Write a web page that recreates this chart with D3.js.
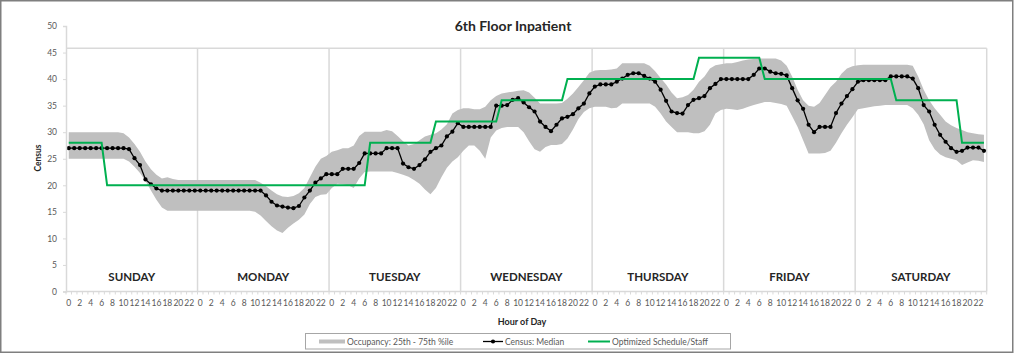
<!DOCTYPE html>
<html><head><meta charset="utf-8">
<script src="https://cdn.jsdelivr.net/npm/d3@7"></script>
<style>body{margin:0;background:#fff}svg{display:block}text{font-family:Lato,"Open Sans",sans-serif}</style>
</head><body><svg id="c" width="1024" height="355"></svg>
<script>
const title = "6th Floor Inpatient";
const days = ["SUNDAY","MONDAY","TUESDAY","WEDNESDAY","THURSDAY","FRIDAY","SATURDAY"];
const hourLabels = [0,2,4,6,8,10,12,14,16,18,20,22];
const yTicks = [0,5,10,15,20,25,30,35,40,45,50];
const seriesNames = ["Occupancy: 25th - 75th %ile","Census: Median","Optimized Schedule/Staff"];

const median = [
 27,27,27,27,27,27,27,27,27,27,27,26.8,25.1,23.8,21.1,20.2,19.4,19,19,19,19,19,19,19,
 19,19,19,19,19,19,19,19,19,19,19,19,18.1,16.9,16.2,16,15.8,15.7,16.1,17.7,19,20.5,21.3,22.1,
 22.1,22.1,23.1,23.1,23.1,24.2,26,26,26,26,27,27,27,24.1,23.4,23.1,23.8,24.9,26.3,27,27.5,29.2,30.1,31.7,
 31,31,31,31,31,31,35,35,35.1,36.1,36.4,35.6,34.7,33.9,32,31,30.2,31.4,32.6,32.9,33.4,34.5,35.4,37.3,
 38.6,39,39,39,39.5,40.1,40.8,41.1,41.1,40.6,40.1,39.5,38,35.9,33.9,33.6,33.5,35.1,36.1,36.4,36.8,38.3,39.1,40,
 40,40,40,40,40,40.8,42,42,41.4,41.1,41,40.7,38.3,36,34.4,31.4,30,31,31,31,33.6,35.4,36.8,38.1,
 39.5,39.8,39.8,39.8,39.8,39.8,40.5,40.5,40.5,40.5,40.1,38.3,35.1,33.9,31.4,29.5,28.2,27,26.3,26.5,27.1,27.1,27.1,26.5
];
const upper = [
 30,30,30,30,30,30,30,30,30,30,29.8,29,27.8,26.3,24.5,23,22,21.3,21.5,21.2,21,21,21,21,
 21,21,21,21,21,21,21,21,21,21,21,20.5,19.8,19,18.3,17.9,17.8,18,18.5,19.5,21.5,23.5,25,25.5,
 26.3,26.6,27,27,27.5,29.3,30.1,30.1,30.1,30.1,30.4,30.2,29.3,28.3,27.5,27.8,28.5,29.2,29.5,29.8,30.5,31.5,33.5,34.2,
 34.5,34.5,34.3,34.3,34.8,36,36.8,37.3,37.5,37.6,37.8,37.9,37.5,36.5,35.4,35.4,35.4,35.4,35.5,36.3,37.3,38.5,39.8,41.2,
 41.6,41.7,41.7,41.8,42,43,43,43,43,43,42.5,41.5,40.2,39,37.5,36.4,36.6,37,38,39.5,40.5,42,42.6,42.8,
 43,43,43.2,43.5,43.7,43.8,43.9,43.9,43.9,43.9,43.5,42.5,40.5,38,36,35,34.8,35.5,37,38.5,39.5,41,42,42.4,
 42.6,42.7,42.7,42.7,42.7,42.7,42.7,42.7,42.7,42.7,42.5,40.5,38,36,34.5,33.3,32,31.3,30.8,30.4,30,29.8,29.6,29.5
];
const lower = [
 25,25,25,25,25,25,25,25,25,25,25,24.5,23.5,22.3,20.8,19,17.3,15.8,15.2,15.2,15.2,15.2,15.2,15.2,
 15.2,15.2,15.2,15.2,15.2,15.2,15.2,15.2,15.2,15.2,15,14.3,13.3,12.3,11.5,11,12,12.8,13.5,14.5,16.5,17.8,18.2,18.3,
 19.5,20.3,20.2,20,19.5,21.3,22.5,22.6,22.6,22.6,22.6,22.6,22.3,22,21.6,21,20.3,19.2,18.3,19.5,21.5,23.3,24.5,25.3,
 26.5,27.5,27.5,26.5,25,29,30.3,30.8,31,31,31,30,28.3,26.8,26.3,27.2,27.6,27.6,27.8,28.8,30.5,32.5,33.8,34.5,
 34.8,34.8,34.8,34.5,34.6,35.4,35.4,35.4,35.4,35.4,35.4,34.8,33.5,32,31,30,30,30,29.8,29.8,30.2,31.4,33.5,34.2,
 34.4,34.3,34.2,34.4,34.8,35.1,35.4,35.7,35.7,35.5,35.3,35,33,31,28.5,26,26,26,26.1,26.5,28,29.8,31.4,32.8,
 34.3,34.5,34.7,34.9,35,35.1,35.1,35.1,35.1,35.1,34.5,33.3,31.5,28.5,26.8,25.8,25.3,25,24.7,23.8,24.3,24.7,24.6,24.4
];
const staff = [
 28,28,28,28,28,28,28,20,20,20,20,20,20,20,20,20,20,20,20,20,20,20,20,20,
 20,20,20,20,20,20,20,20,20,20,20,20,20,20,20,20,20,20,20,20,20,20,20,20,
 20,20,20,20,20,20,20,28,28,28,28,28,28,28,28,28,28,28,28,32,32,32,32,32,
 32,32,32,32,32,32,32,36,36,36,36,36,36,36,36,36,36,36,36,40,40,40,40,40,
 40,40,40,40,40,40,40,40,40,40,40,40,40,40,40,40,40,40,40,44,44,44,44,44,
 44,44,44,44,44,44,44,40,40,40,40,40,40,40,40,40,40,40,40,40,40,40,40,40,
 40,40,40,40,40,40,40,36,36,36,36,36,36,36,36,36,36,36,36,28,28,28,28,28
];

const svg = d3.select("#c");
const L = 66, R = 986.7, T = 48.3, B = 291.5;
const idx = d3.range(days.length * 24);
const x = d3.scaleBand().domain(idx).range([L, R]).padding(0);
const xc = i => x(i) + x.bandwidth() / 2;
const y = d3.scaleLinear().domain([0, 50]).range([B, 26]);
const grid = "#d9d9d9", txt = "#595959";

// outer frame
svg.append("rect").attr("x",0.75).attr("y",0.75).attr("width",1012).attr("height",351.5)
  .attr("fill","#fff").attr("stroke","#7f7f7f").attr("stroke-width",1.5);

// title
svg.append("text").attr("x",513).attr("y",31).attr("text-anchor","middle")
  .attr("font-size",14).attr("font-weight","bold").attr("fill","#262626").text(title);

// plot frame top and day separators
svg.append("line").attr("x1",L).attr("x2",R).attr("y1",T).attr("y2",T).attr("stroke",grid).attr("stroke-width",1.5);
days.forEach((d,k)=>{
  const xe = k===days.length-1 ? R : x((k+1)*24);
  svg.append("line").attr("x1",xe).attr("x2",xe).attr("y1",T).attr("y2",B).attr("stroke",grid).attr("stroke-width",1.5);
});

// band
svg.append("path").datum(idx)
  .attr("d", d3.area().x(i=>xc(i)).y0(i=>y(lower[i])).y1(i=>y(upper[i])))
  .attr("fill","#bfbfbf");

// median
svg.append("path").datum(idx)
  .attr("d", d3.line().x(i=>xc(i)).y(i=>y(median[i])))
  .attr("fill","none").attr("stroke","#000").attr("stroke-width",1.3);
svg.append("g").selectAll("circle").data(idx).join("circle")
  .attr("cx",i=>xc(i)).attr("cy",i=>y(median[i])).attr("r",2.1).attr("fill","#000");

// staff
svg.append("path").datum(idx)
  .attr("d", d3.line().x(i=>xc(i)).y(i=>y(staff[i])))
  .attr("fill","none").attr("stroke","#00b050").attr("stroke-width",2);

// y axis
const ya = svg.append("g").attr("transform",`translate(${L},0)`)
  .call(d3.axisLeft(y).tickValues(yTicks).tickSize(3).tickPadding(6));
ya.select(".domain").attr("stroke",grid).attr("stroke-width",1.5);
ya.selectAll(".tick line").attr("stroke",grid);
ya.selectAll("text").attr("font-size",8.5).attr("fill",txt).attr("font-family","Lato, sans-serif");

// x axis
const xa = svg.append("g").attr("transform",`translate(0,${B})`);
xa.append("line").attr("x1",L).attr("x2",R).attr("stroke",grid).attr("stroke-width",1.5);
xa.selectAll("line.t").data(idx.concat([idx.length])).join("line").attr("class","t")
  .attr("x1",i=> i<idx.length ? x(i) : R).attr("x2",i=> i<idx.length ? x(i) : R)
  .attr("y1",0).attr("y2",3).attr("stroke",grid);
const labelIdx = idx.filter(i => hourLabels.includes(i % 24));
xa.selectAll("text").data(labelIdx).join("text")
  .attr("x",i=>xc(i)).attr("y",14.5).attr("text-anchor","middle")
  .attr("font-size",8.5).attr("fill",txt).text(i=>i%24);

// day labels
svg.append("g").selectAll("text").data(days).join("text")
  .attr("x",(d,k)=> (x(k*24) + (k===days.length-1 ? R : x((k+1)*24)))/2)
  .attr("y",y(2)).attr("text-anchor","middle")
  .attr("font-size",11.5).attr("font-weight","bold").attr("fill","#262626").text(d=>d);

// axis titles
svg.append("text").attr("transform","translate(41,158) rotate(-90)").attr("text-anchor","middle")
  .attr("font-size",8.5).attr("font-weight","bold").attr("fill","#262626").text("Census");
svg.append("text").attr("x",522).attr("y",325).attr("text-anchor","middle")
  .attr("font-size",9).attr("font-weight","bold").attr("fill","#262626").text("Hour of Day");

// legend
const lg = svg.append("g");
lg.append("rect").attr("x",305.5).attr("y",333.5).attr("width",425).attr("height",15.5)
  .attr("fill","#fff").attr("stroke","#a6a6a6").attr("stroke-width",1);
lg.append("rect").attr("x",319).attr("y",339.5).attr("width",26).attr("height",4).attr("fill","#bfbfbf");
lg.append("text").attr("x",347).attr("y",344.5).attr("font-size",8.5).attr("fill",txt).text(seriesNames[0]);
lg.append("line").attr("x1",483).attr("x2",503).attr("y1",341.5).attr("y2",341.5).attr("stroke","#000").attr("stroke-width",1.3);
lg.append("circle").attr("cx",493).attr("cy",341.5).attr("r",2.1).attr("fill","#000");
lg.append("text").attr("x",505).attr("y",344.5).attr("font-size",8.5).attr("fill",txt).text(seriesNames[1]);
lg.append("line").attr("x1",588).attr("x2",610).attr("y1",341.5).attr("y2",341.5).attr("stroke","#00b050").attr("stroke-width",2);
lg.append("text").attr("x",612).attr("y",344.5).attr("font-size",8.5).attr("fill",txt).text(seriesNames[2]);
</script></body></html>
